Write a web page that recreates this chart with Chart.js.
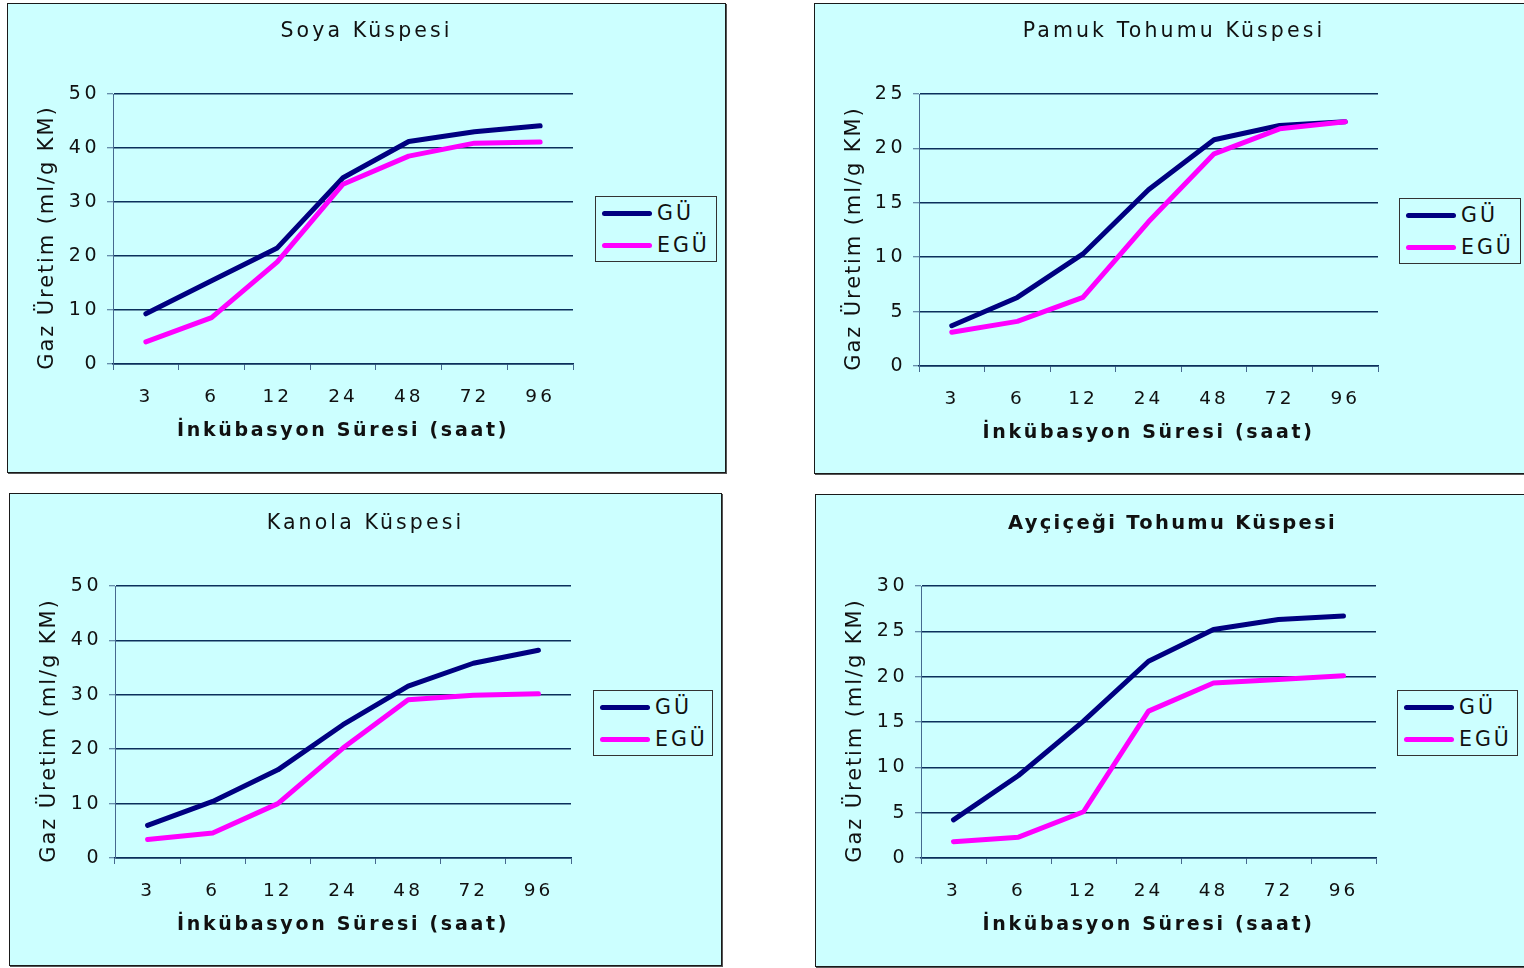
<!DOCTYPE html>
<html>
<head>
<meta charset="utf-8">
<script src="https://cdn.jsdelivr.net/npm/chart.js@4.4.0/dist/chart.umd.min.js"></script>
<style>
  html, body { margin: 0; padding: 0; background: #ffffff; width: 1524px; height: 968px; overflow: hidden; position: relative; font-family: "DejaVu Sans", sans-serif; }
  .panel { position: absolute; background: #ccffff; border: 1px solid #1a1a1a; box-shadow: 1px 1px 0 #555; }
  .panel canvas { display: block; }
  .legend { position: absolute; background: #ccffff; border: 1px solid #333; box-sizing: border-box; width: 122px; height: 66px; }
  .legend .row { position: absolute; left: 6px; height: 32px; display: flex; align-items: center; }
  .legend .sw { width: 50px; height: 5px; border-radius: 3px; margin-right: 5px; }
  .legend .tx { font: 20.5px "DejaVu Sans", sans-serif; letter-spacing: 3px; color: #111; }
</style>
</head>
<body>

<div class="panel" style="left:7px;top:3px;"><canvas id="c1" width="717" height="468"></canvas></div>
<div class="panel" style="left:814px;top:3px;"><canvas id="c2" width="718" height="469"></canvas></div>
<div class="panel" style="left:9px;top:493px;"><canvas id="c3" width="711" height="471"></canvas></div>
<div class="panel" style="left:815px;top:494px;"><canvas id="c4" width="713" height="471"></canvas></div>

<div class="legend" style="left:595px;top:196px;">
  <div class="row" style="top:0px;"><div class="sw" style="background:#000080"></div><span class="tx">GÜ</span></div>
  <div class="row" style="top:32px;"><div class="sw" style="background:#ff00ff"></div><span class="tx">EGÜ</span></div>
</div>
<div class="legend" style="left:1399px;top:198px;">
  <div class="row" style="top:0px;"><div class="sw" style="background:#000080"></div><span class="tx">GÜ</span></div>
  <div class="row" style="top:32px;"><div class="sw" style="background:#ff00ff"></div><span class="tx">EGÜ</span></div>
</div>
<div class="legend" style="left:593px;top:690px;width:120px;">
  <div class="row" style="top:0px;"><div class="sw" style="background:#000080"></div><span class="tx">GÜ</span></div>
  <div class="row" style="top:32px;"><div class="sw" style="background:#ff00ff"></div><span class="tx">EGÜ</span></div>
</div>
<div class="legend" style="left:1397px;top:690px;width:121px;">
  <div class="row" style="top:0px;"><div class="sw" style="background:#000080"></div><span class="tx">GÜ</span></div>
  <div class="row" style="top:32px;"><div class="sw" style="background:#ff00ff"></div><span class="tx">EGÜ</span></div>
</div>

<script>
// Incubation times (hours)
const hours = ['3', '6', '12', '24', '48', '72', '96'];

// Gas production (ml/g KM) per meal, GÜ and EGÜ
const soyaGU    = [9.3, 15.4, 21.5, 34.5, 41.2, 43.0, 44.1];
const soyaEGU   = [4.1, 8.6, 18.9, 33.3, 38.5, 40.9, 41.1];
const pamukGU   = [3.7, 6.3, 10.3, 16.2, 20.8, 22.1, 22.45];
const pamukEGU  = [3.1, 4.1, 6.3, 13.25, 19.5, 21.8, 22.45];
const kanolaGU  = [6.0, 10.4, 16.2, 24.5, 31.6, 35.8, 38.2];
const kanolaEGU = [3.4, 4.6, 10.0, 20.2, 29.1, 29.9, 30.2];
const aycGU     = [4.2, 9.1, 15.1, 21.7, 25.2, 26.3, 26.7];
const aycEGU    = [1.8, 2.3, 5.1, 16.2, 19.3, 19.7, 20.1];

const seriesNames = ['GÜ', 'EGÜ'];
const titles = ['Soya Küspesi', 'Pamuk Tohumu Küspesi', 'Kanola Küspesi', 'Ayçiçeği Tohumu Küspesi'];
const yTitle = 'Gaz Üretim (ml/g KM)  ';
const xTitle = 'İnkübasyon Süresi (saat)';

const FONT = '"DejaVu Sans", Verdana, sans-serif';
const GRID = '#0b2f5b';
const AXIS = '#46698f';

// Font sizes of each text role; each size/weight gets its own character spacing
const SIZE_XTICK = 18.5, SIZE_YTICK = 19, SIZE_YTITLE = 21, SIZE_XTITLE = 19, SIZE_TITLE = 20.5, SIZE_TITLE_BOLD = 19.5;
const spacingNormal = { '18.5': '3px', '19': '3.5px', '21': '1.9px', '20.5': '3.1px' };
const spacingBold = { '19': '2.7px', '19.5': '2.3px' };

// wrap the context's font setter so text gets the wide spacing for its size
function hookSpacing(canvas) {
  const ctx = canvas.getContext('2d');
  const desc = Object.getOwnPropertyDescriptor(CanvasRenderingContext2D.prototype, 'font');
  Object.defineProperty(ctx, 'font', {
    configurable: true,
    get() { return desc.get.call(this); },
    set(v) {
      desc.set.call(this, v);
      const m = /(\d+(?:\.\d+)?)px/.exec(v);
      const table = /bold/.test(v) ? spacingBold : spacingNormal;
      this.letterSpacing = (m && table[m[1]]) || '0px';
    }
  });
}

function makeChart(id, title, boldTitle, gu, egu, yMax, yStep, g) {
  const canvas = document.getElementById(id);
  hookSpacing(canvas);
  const W = canvas.width, H = canvas.height;
  const titleSize = boldTitle ? SIZE_TITLE_BOLD : SIZE_TITLE;
  const lh = titleSize * 1.2;
  const tTop = g.titleY - lh / 2;
  const tBottom = g.top - tTop - lh;
  const xH = 78;
  return new Chart(canvas, {
    type: 'line',
    data: {
      labels: hours,
      datasets: [
        { label: seriesNames[0], data: gu, borderColor: '#000080', backgroundColor: '#000080', order: 1 },
        { label: seriesNames[1], data: egu, borderColor: '#ff00ff', backgroundColor: '#ff00ff', order: 0 }
      ]
    },
    options: {
      responsive: false,
      animation: false,
      devicePixelRatio: 1,
      layout: { padding: { left: 0, right: 0, top: 0, bottom: H - g.bottom - xH } },
      elements: {
        line: { borderWidth: 5, tension: 0, borderCapStyle: 'round', borderJoinStyle: 'round', fill: false },
        point: { radius: 0, hoverRadius: 0 }
      },
      plugins: {
        legend: { display: false },
        tooltip: { enabled: false },
        title: {
          display: true,
          text: title,
          color: '#111',
          font: { family: FONT, size: titleSize, weight: boldTitle ? 'bold' : 'normal' },
          padding: { top: tTop, bottom: tBottom }
        }
      },
      scales: {
        x: {
          offset: true,
          grid: { offset: true, drawOnChartArea: false, drawTicks: true, tickLength: 6, color: AXIS, lineWidth: 1 },
          border: { color: GRID, width: 1.5 },
          ticks: { color: '#111', padding: 16, font: { family: FONT, size: SIZE_XTICK }, maxRotation: 0, autoSkip: false },
          title: { display: true, text: xTitle, color: '#111', font: { family: FONT, size: SIZE_XTITLE, weight: 'bold' }, padding: { top: 0, bottom: 0 } },
          afterFit(s) { s.height = xH; }
        },
        y: {
          min: 0, max: yMax,
          ticks: { stepSize: yStep, color: '#111', padding: 7, font: { family: FONT, size: SIZE_YTICK } },
          grid: { color: GRID, lineWidth: 1.5, tickColor: AXIS, tickWidth: 1, tickLength: 6 },
          border: { color: AXIS, width: 1 },
          title: { display: true, text: yTitle, color: '#111', font: { family: FONT, size: SIZE_YTITLE }, padding: { top: 27, bottom: 0 } },
          afterFit(s) { s.width = g.left; }
        },
        legendSpace: {
          position: 'right',
          display: true,
          ticks: { display: false },
          grid: { display: false, drawTicks: false },
          border: { display: false },
          afterFit(s) { s.width = W - g.right; }
        }
      }
    }
  });
}

makeChart('c1', titles[0], false, soyaGU, soyaEGU, 50, 10, { left: 105, right: 565, top: 90, bottom: 360, titleY: 28 });
makeChart('c2', titles[1], false, pamukGU, pamukEGU, 25, 5, { left: 104, right: 563, top: 90, bottom: 362, titleY: 28 });
makeChart('c3', titles[2], false, kanolaGU, kanolaEGU, 50, 10, { left: 105, right: 561, top: 92, bottom: 364, titleY: 30 });
makeChart('c4', titles[3], true, aycGU, aycEGU, 30, 5, { left: 105, right: 560, top: 91, bottom: 363, titleY: 29 });
</script>
</body>
</html>
